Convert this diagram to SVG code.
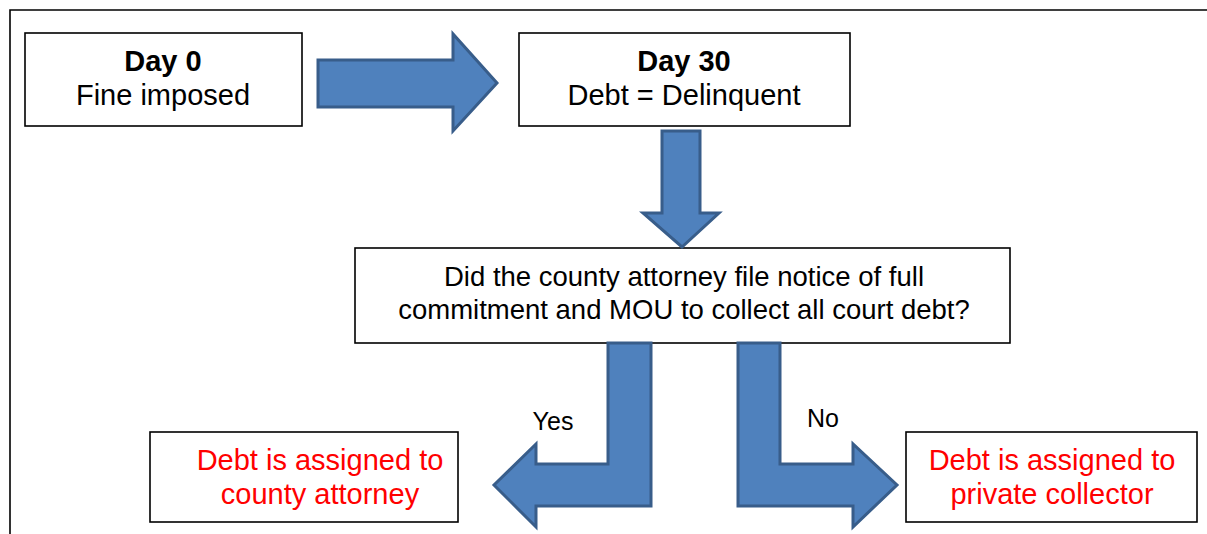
<svg xmlns="http://www.w3.org/2000/svg" width="1207" height="534" viewBox="0 0 1207 534">
<style>
.box{fill:#fff;stroke:#000;stroke-width:1.6}
.arr{fill:#4F81BD;stroke:#385D8A;stroke-width:3;stroke-linejoin:miter}
text{font-family:"Liberation Sans",Arial,sans-serif;text-anchor:middle}
.t{font-size:29px;fill:#000}
.q{font-size:27.5px;fill:#000}
.b{font-weight:bold}
.r{font-size:29px;fill:#FF0000}
.l{font-size:25px;fill:#000}
</style>
<rect x="0" y="0" width="1207" height="534" fill="#fff"/>
<path d="M10,534 V10 H1207" fill="none" stroke="#000" stroke-width="1.6"/>
<g id="day0">
<rect class="box" x="25" y="33" width="277" height="93"/>
<text class="t b" x="163" y="71">Day 0</text>
<text class="t" x="163" y="105">Fine imposed</text>
</g>
<g id="day30">
<rect class="box" x="519" y="33" width="331" height="93"/>
<text class="t b" x="684" y="71">Day 30</text>
<text class="t" x="684" y="105">Debt = Delinquent</text>
</g>
<g id="question">
<rect class="box" x="355" y="248" width="655" height="95"/>
<text class="q" x="684" y="286">Did the county attorney file notice of full</text>
<text class="q" x="684" y="319">commitment and MOU to collect all court debt?</text>
</g>
<g id="county">
<rect class="box" x="150" y="432" width="308" height="90"/>
<text class="r" x="320" y="470">Debt is assigned to</text>
<text class="r" x="320" y="504">county attorney</text>
</g>
<g id="private">
<rect class="box" x="906" y="432" width="291" height="90"/>
<text class="r" x="1052" y="470">Debt is assigned to</text>
<text class="r" x="1052" y="504">private collector</text>
</g>
<g id="connectors">
<polygon class="arr" points="318,60 453,60 453,34 497,83 453,131 453,107 318,107"/>
<polygon class="arr" points="662,131 700,131 700,213 719,213 682,247 643,213 662,213"/>
<polygon class="arr" points="608,343 651,343 651,506 536,506 536,527 494,485 536,444 536,464 608,464"/>
<polygon class="arr" points="738,343 780,343 780,464 853,464 853,444 897,485 853,527 853,506 738,506"/>
<text class="l" x="553" y="430">Yes</text>
<text class="l" x="823" y="427">No</text>
</g>
</svg>
